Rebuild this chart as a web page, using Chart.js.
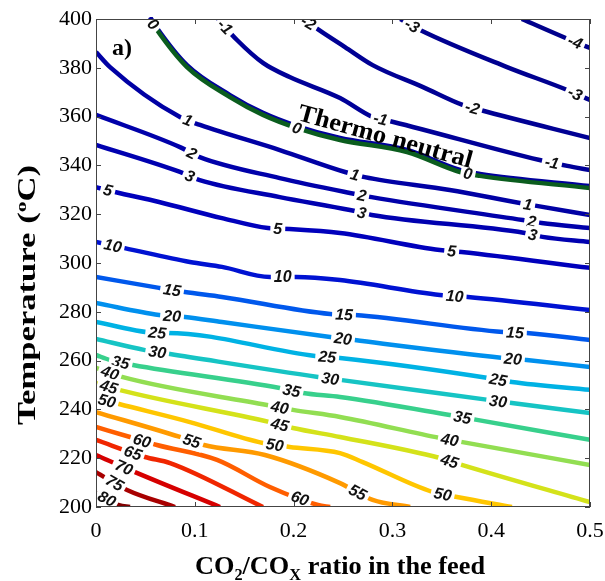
<!DOCTYPE html>
<html>
<head>
<meta charset="utf-8">
<script src="https://cdn.jsdelivr.net/npm/chart.js@4.4.1/dist/chart.umd.min.js"></script>
<style>
html, body { margin: 0; padding: 0; background: #fff; }
#wrap { width: 605px; height: 581px; }
</style>
</head>
<body>
<div id="wrap"><canvas id="contour" width="605" height="581"></canvas></div>
<script>
// contour levels (heat of reaction) and their line colours
var levels = [-4, -3, -2, -1, 0, 1, 2, 3, 5, 10, 15, 20, 25, 30, 35, 40, 45, 50, 55, 60, 65, 70, 75, 80];
var lineColors = ['#00008c', '#000090', '#000094', '#000098', '#00009c', '#0000a4', '#0000aa', '#0000b0',
  '#0000bc', '#0012d2', '#0058ec', '#0090ee', '#00b2e4', '#16c4c4', '#38d08c', '#92de52', '#d4e21a',
  '#ffc600', '#ff9a00', '#ff5e00', '#f02600', '#d60000', '#a80000', '#800000'];
var neutralColor = '#0b5d1e';

// contour lines: [CO2/COx ratio, temperature]
var cM4 = [[0.431, 400], [0.480, 391.4], [0.5, 388.1]];
var cM3 = [[0.308, 400], [0.328, 395.5], [0.416, 380.3], [0.477, 370.9], [0.5, 366.8]];
var cM2 = [[0.2095, 400], [0.230, 394.3], [0.252, 388.5], [0.280, 381.1], [0.331, 372.1], [0.371, 364.8], [0.389, 362.7], [0.5, 351.2]];
var cM1 = [[0.1235, 400], [0.1427, 391.4], [0.169, 382.0], [0.196, 376.2], [0.247, 367.6], [0.280, 359.8], [0.301, 357.8], [0.449, 342.2], [0.477, 339.8], [0.5, 338.1]];
var c0 = [[0.0547, 400], [0.0617, 395.5], [0.0921, 380.3], [0.1356, 368.0], [0.169, 360.7], [0.2034, 355.3], [0.247, 350.4], [0.3148, 345.5], [0.3684, 337.3], [0.3887, 335.7], [0.5, 330.7]];
var c1 = [[0, 386.5], [0.0142, 380.3], [0.085, 359.8], [0.1053, 356.6], [0.186, 346.3], [0.252, 337.3], [0.272, 335.2], [0.358, 329.9], [0.429, 324.6], [0.446, 323.4], [0.5, 319.7]];
var c2 = [[0, 360.7], [0.085, 347.5], [0.105, 343.4], [0.186, 334.8], [0.257, 328.7], [0.279, 327.0], [0.432, 317.6], [0.451, 316.4], [0.5, 314.3]];
var c3 = [[0, 348.4], [0.085, 337.3], [0.105, 334.0], [0.186, 327.0], [0.257, 321.7], [0.279, 319.7], [0.434, 312.3], [0.452, 310.7], [0.5, 308.6]];
var c5 = [[0, 331.1], [0.0192, 329.1], [0.0638, 325.0], [0.1275, 318.4], [0.174, 314.3], [0.196, 313.9], [0.247, 312.3], [0.348, 305.3], [0.370, 304.5], [0.5, 298.0]];
var c10 = [[0, 308.6], [0.029, 306.1], [0.095, 300.4], [0.1275, 298.4], [0.176, 294.3], [0.203, 294.3], [0.247, 293.0], [0.348, 286.9], [0.3765, 286.1], [0.5, 280.7]];
var c15 = [[0, 294.3], [0.0638, 289.8], [0.090, 288.1], [0.1275, 286.1], [0.237, 279.1], [0.262, 278.7], [0.412, 271.7], [0.436, 271.3], [0.5, 268.4]];
var c20 = [[0, 283.6], [0.0638, 278.7], [0.090, 277.9], [0.1275, 275.8], [0.237, 269.7], [0.262, 268.4], [0.412, 261.1], [0.436, 260.2], [0.5, 257.4]];
var c25 = [[0, 275.8], [0.0638, 271.3], [0.072, 271.3], [0.2217, 261.9], [0.247, 261.1], [0.397, 252.9], [0.421, 251.2], [0.5, 248.0]];
var c30 = [[0, 268.9], [0.0496, 264.3], [0.075, 262.7], [0.2247, 253.3], [0.249, 252.0], [0.397, 243.9], [0.421, 242.6], [0.5, 238.5]];
var c35 = [[0, 262.3], [0.0142, 260.2], [0.0374, 258.2], [0.186, 248.8], [0.2095, 246.7], [0.247, 245.1], [0.358, 237.7], [0.3856, 235.7], [0.5, 227.5]];
var c40 = [[0, 257.0], [0.0263, 253.3], [0.173, 241.8], [0.1994, 239.8], [0.247, 236.9], [0.348, 228.3], [0.371, 226.6], [0.5, 217.2]];
var c45 = [[0, 250.8], [0.0243, 247.9], [0.176, 234.8], [0.1994, 232.4], [0.247, 228.7], [0.348, 220.1], [0.371, 217.2], [0.5, 202.0]];
var c50 = [[0, 244.7], [0.0233, 242.2], [0.095, 234.8], [0.169, 226.2], [0.196, 224.6], [0.247, 222.1], [0.270, 218.4], [0.341, 206.1], [0.3654, 204.1], [0.421, 200]];
var c55 = [[0, 238.9], [0.085, 228.7], [0.1093, 225.4], [0.171, 221.3], [0.247, 209.8], [0.280, 202.9], [0.318, 200]];
var c60 = [[0, 232.8], [0.0344, 228.7], [0.0617, 225.4], [0.1225, 219.3], [0.176, 208.2], [0.2247, 200.8], [0.237, 200]];
var c65 = [[0, 227.5], [0.0496, 220.5], [0.075, 218.0], [0.169, 200]];
var c70 = [[0, 221.3], [0.0395, 214.3], [0.1255, 200]];
var c75 = [[0, 214.3], [0.0314, 207.0], [0.080, 200]];
var c80 = [[0, 205.7], [0.0233, 200.8], [0.0344, 200]];

// where the inline level labels sit (CO2/COx ratio)
var labM4 = [0.485];
var labM3 = [0.32, 0.485];
var labM2 = [0.215, 0.381];
var labM1 = [0.1306, 0.288, 0.4615];
var lab0 = [0.058, 0.2034, 0.3765];
var lab1 = [0.093, 0.262, 0.437];
var lab2 = [0.097, 0.269, 0.441];
var lab3 = [0.095, 0.269, 0.442];
var lab5 = [0.012, 0.184, 0.360];
var lab10 = [0.017, 0.189, 0.363];
var lab15 = [0.077, 0.251, 0.424];
var lab20 = [0.077, 0.250, 0.422];
var lab25 = [0.062, 0.234, 0.407];
var lab30 = [0.062, 0.237, 0.407];
var lab35 = [0.025, 0.198, 0.371];
var lab40 = [0.0142, 0.186, 0.358];
var lab45 = [0.013, 0.186, 0.358];
var lab50 = [0.011, 0.181, 0.351];
var lab55 = [0.097, 0.265];
var lab60 = [0.0466, 0.2065];
var lab65 = [0.0374];
var lab70 = [0.0283];
var lab75 = [0.019];
var lab80 = [0.011];

var xTicks = [0, 0.1, 0.2, 0.3, 0.4, 0.5];
var yTicks = [200, 220, 240, 260, 280, 300, 320, 340, 360, 380, 400];

var lines = [cM4, cM3, cM2, cM1, c0, c1, c2, c3, c5, c10, c15, c20, c25, c30, c35, c40, c45, c50, c55, c60, c65, c70, c75, c80];
var labelAt = [labM4, labM3, labM2, labM1, lab0, lab1, lab2, lab3, lab5, lab10, lab15, lab20, lab25, lab30, lab35, lab40, lab45, lab50, lab55, lab60, lab65, lab70, lab75, lab80];

var serif = '"Liberation Serif", "Times New Roman", serif';

function toPoints(arr) {
	return arr.map(function(p) { return {x: p[0], y: p[1]}; });
}

// linear interpolation of a contour at a given ratio
function lineAt(data, x) {
	if (x <= data[0].x) return data[0].y;
	for (var i = 1; i < data.length; i++) {
		if (x <= data[i].x) {
			var t = (x - data[i - 1].x) / (data[i].x - data[i - 1].x);
			return data[i - 1].y + t * (data[i].y - data[i - 1].y);
		}
	}
	return data[data.length - 1].y;
}

var datasets = [];
levels.forEach(function(lv, i) {
	datasets.push({
		label: String(lv),
		data: toPoints(lines[i]),
		borderColor: lineColors[i],
		borderWidth: 4.5,
		labelAt: labelAt[i],
		shiftY: lv === 0 ? -2 : 0,
		order: lv === 0 ? 1 : 2
	});
});
// thermo neutral line drawn green over the 0 contour
datasets.push({
	label: 'Thermo neutral',
	data: toPoints(c0),
	borderColor: neutralColor,
	borderWidth: 4.5,
	order: 0
});

var shiftLine = {
	id: 'shiftLine',
	beforeDatasetDraw: function(chart, args) {
		var s = chart.data.datasets[args.index].shiftY;
		if (s) { chart.ctx.save(); chart.ctx.translate(0, s); }
	},
	afterDatasetDraw: function(chart, args) {
		if (chart.data.datasets[args.index].shiftY) chart.ctx.restore();
	}
};

var contourLabels = {
	id: 'contourLabels',
	afterDatasetsDraw: function(chart) {
		var ctx = chart.ctx, xs = chart.scales.x, ys = chart.scales.y, a = chart.chartArea;
		ctx.save();
		ctx.beginPath();
		ctx.rect(a.left, a.top, a.right - a.left, a.bottom - a.top);
		ctx.clip();
		ctx.font = 'italic bold 16px "Liberation Sans", Arial, sans-serif';
		ctx.textAlign = 'center';
		ctx.textBaseline = 'middle';
		chart.data.datasets.forEach(function(ds) {
			if (!ds.labelAt) return;
			ds.labelAt.forEach(function(lx) {
				var px = xs.getPixelForValue(lx), py = ys.getPixelForValue(lineAt(ds.data, lx));
				var d = 0.008;
				var ang = Math.atan2(ys.getPixelForValue(lineAt(ds.data, lx + d)) - ys.getPixelForValue(lineAt(ds.data, lx - d)),
					xs.getPixelForValue(lx + d) - xs.getPixelForValue(lx - d));
				var w = ctx.measureText(ds.label).width + 6;
				ctx.save();
				ctx.translate(px, py);
				ctx.rotate(ang);
				ctx.fillStyle = '#fff';
				ctx.fillRect(-w / 2, -8.5, w, 17);
				ctx.fillStyle = '#111';
				ctx.fillText(ds.label, 0, 1);
				ctx.restore();
			});
		});
		ctx.restore();

		// annotations
		ctx.save();
		ctx.fillStyle = '#000';
		ctx.textAlign = 'center';
		ctx.textBaseline = 'middle';
		ctx.font = 'bold 25px ' + serif;
		ctx.translate(xs.getPixelForValue(0.2925), ys.getPixelForValue(351.4));
		ctx.rotate(15.5 * Math.PI / 180);
		var tw = ctx.measureText('Thermo neutral').width;
		ctx.scale(180 / tw, 1);
		ctx.fillText('Thermo neutral', 0, 0);
		ctx.restore();
		ctx.save();
		ctx.fillStyle = '#000';
		ctx.textAlign = 'center';
		ctx.textBaseline = 'middle';
		ctx.font = 'bold 24px ' + serif;
		ctx.fillText('a)', xs.getPixelForValue(0.0263), ys.getPixelForValue(387.7));
		ctx.restore();
	}
};

function richWidth(ctx, parts, size) {
	var w = 0;
	parts.forEach(function(p) {
		ctx.font = 'bold ' + (p.s ? size * 0.62 : size) + 'px ' + serif;
		w += ctx.measureText(p.t).width;
	});
	return w;
}
function drawRich(ctx, parts, size, x0, y0) {
	var x = x0;
	parts.forEach(function(p) {
		var fs = p.s ? size * 0.62 : size;
		ctx.font = 'bold ' + fs + 'px ' + serif;
		var dy = p.s === 'sub' ? size * 0.22 : (p.s === 'sup' ? -size * 0.38 : 0);
		ctx.fillText(p.t, x, y0 + dy);
		x += ctx.measureText(p.t).width;
	});
}

var frame = {
	id: 'frame',
	afterDraw: function(chart) {
		var ctx = chart.ctx, a = chart.chartArea, xs = chart.scales.x, ys = chart.scales.y;
		ctx.save();
		ctx.strokeStyle = '#444';
		ctx.lineWidth = 1;
		ctx.strokeRect(a.left + 0.5, a.top + 0.5, a.right - a.left - 1, a.bottom - a.top - 1);
		ctx.beginPath();
		xTicks.forEach(function(v) {
			var x = Math.round(xs.getPixelForValue(v)) + 0.5;
			ctx.moveTo(x, a.bottom); ctx.lineTo(x, a.bottom - 5);
			ctx.moveTo(x, a.top); ctx.lineTo(x, a.top + 5);
		});
		yTicks.forEach(function(v) {
			var y = Math.round(ys.getPixelForValue(v)) + 0.5;
			ctx.moveTo(a.left, y); ctx.lineTo(a.left + 5, y);
			ctx.moveTo(a.right, y); ctx.lineTo(a.right - 5, y);
		});
		ctx.stroke();

		ctx.fillStyle = '#000';
		ctx.textAlign = 'left';
		ctx.textBaseline = 'alphabetic';
		// x axis title
		var xParts = [{t: 'CO'}, {t: '2', s: 'sub'}, {t: '/CO'}, {t: 'X', s: 'sub'}, {t: ' ratio in the feed'}];
		var xw = richWidth(ctx, xParts, 26);
		ctx.save();
		ctx.translate(340, 574);
		ctx.scale(290 / xw, 1);
		drawRich(ctx, xParts, 26, -xw / 2, 0);
		ctx.restore();
		// y axis title
		var yParts = [{t: 'Temperature ('}, {t: 'o', s: 'sup'}, {t: 'C)'}];
		var yw = richWidth(ctx, yParts, 25);
		ctx.save();
		ctx.translate(35, 295);
		ctx.rotate(-Math.PI / 2);
		ctx.scale(260 / yw, 1);
		drawRich(ctx, yParts, 25, -yw / 2, 0);
		ctx.restore();
		ctx.restore();
	}
};

var config = {
	type: 'scatter',
	data: { datasets: datasets },
	options: {
		responsive: false,
		animation: false,
		devicePixelRatio: 1,
		layout: { padding: { left: 0, top: 19, right: 15, bottom: 0 } },
		datasets: {
			scatter: {
				showLine: true,
				pointRadius: 0,
				pointHoverRadius: 0,
				fill: false,
				cubicInterpolationMode: 'monotone',
				borderCapStyle: 'butt'
			}
		},
		plugins: {
			legend: { display: false },
			tooltip: { enabled: false }
		},
		scales: {
			x: {
				type: 'linear',
				min: 0,
				max: 0.5,
				grid: { display: false, drawTicks: false },
				border: { display: false },
				afterFit: function(scale) {
					scale.height = 74;
					scale.paddingLeft = 0;
					scale.paddingRight = 0;
				},
				afterBuildTicks: function(scale) {
					scale.ticks = xTicks.map(function(v) { return {value: v}; });
				},
				ticks: {
					color: '#000',
					padding: 11,
					maxRotation: 0,
					autoSkip: false,
					font: { family: serif, size: 22 },
					callback: function(v) { return v === 0 ? '0' : v.toFixed(1); }
				}
			},
			y: {
				type: 'linear',
				min: 200,
				max: 400,
				grid: { display: false, drawTicks: false },
				border: { display: false },
				afterFit: function(scale) {
					scale.width = 96;
					scale.paddingTop = 0;
					scale.paddingBottom = 0;
				},
				afterBuildTicks: function(scale) {
					scale.ticks = yTicks.map(function(v) { return {value: v}; });
				},
				ticks: {
					color: '#000',
					padding: 4,
					autoSkip: false,
					font: { family: serif, size: 22 }
				}
			}
		}
	},
	plugins: [shiftLine, contourLabels, frame]
};

window.onload = function() {
	var ctx = document.getElementById('contour').getContext('2d');
	window.myContour = new Chart(ctx, config);
};
</script>
</body>
</html>
